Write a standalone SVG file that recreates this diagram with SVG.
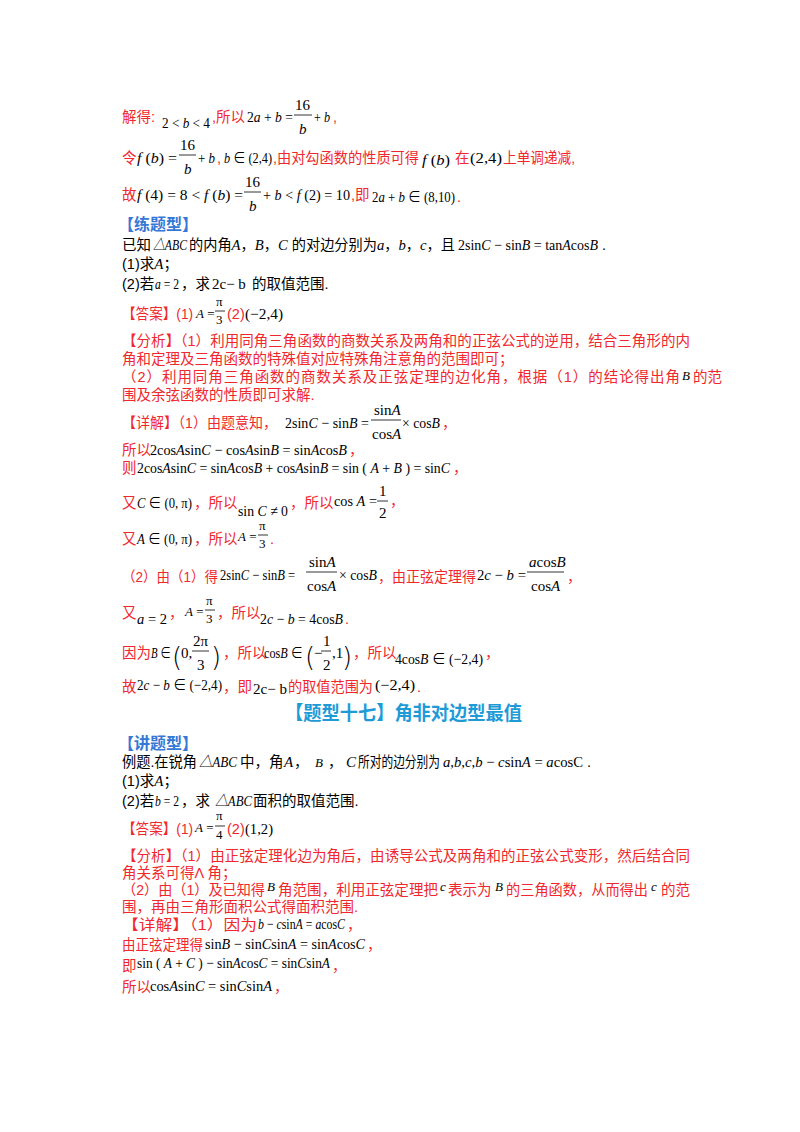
<svg xmlns="http://www.w3.org/2000/svg" width="800" height="1132" viewBox="0 0 800 1132">
<style>
text{font-family:"Liberation Sans","Noto Sans CJK SC",sans-serif;font-size:14.5px;fill:#000}
.r{fill:#f0282d}
.m{font-family:"Liberation Serif","Noto Sans CJK SC",serif;font-size:15px}
.i{font-style:italic}
.b{fill:#3578d6;font-weight:bold;font-size:16px}
.h{fill:#1e9bd7;font-weight:bold;font-size:19px}
.s{font-size:13px}
.p{font-family:"DejaVu Sans",sans-serif;font-size:26px;font-weight:200}
line{stroke:#000;stroke-width:0.8}
</style>
<rect width="800" height="1132" fill="#fff"/>
<text x="122" y="122" class="r">解得:</text>
<text x="162" y="128" class="m" textLength="48" lengthAdjust="spacingAndGlyphs">2 &lt; <tspan class="i">b</tspan> &lt; 4</text>
<text x="212" y="122" class="r">,所以</text>
<text x="247" y="122" class="m" textLength="46" lengthAdjust="spacingAndGlyphs">2<tspan class="i">a</tspan> + <tspan class="i">b</tspan> =</text>
<text x="295" y="110" class="m">16</text><line x1="294" y1="115" x2="312" y2="115"/><text x="299" y="134" class="m i">b</text>
<text x="314" y="122" class="m" textLength="16" lengthAdjust="spacingAndGlyphs">+ <tspan class="i">b</tspan></text><text x="333" y="122" class="r">,</text>

<text x="122" y="163" class="r">令</text>
<text x="137" y="163" class="m" textLength="40" lengthAdjust="spacingAndGlyphs"><tspan class="i">f</tspan> (<tspan class="i">b</tspan>) =</text>
<text x="180" y="150" class="m">16</text><line x1="179" y1="155" x2="196" y2="155"/><text x="184" y="174" class="m i">b</text>
<text x="198" y="163" class="m" textLength="17" lengthAdjust="spacingAndGlyphs">+ <tspan class="i">b</tspan></text>
<text x="217" y="163" class="r">,</text>
<text x="224" y="163" class="m" textLength="48" lengthAdjust="spacingAndGlyphs"><tspan class="i">b</tspan> ∈ (2,4)</text>
<text x="273" y="163" class="r" textLength="146" lengthAdjust="spacingAndGlyphs">,由对勾函数的性质可得</text>
<text x="422" y="165" class="m" textLength="28" lengthAdjust="spacingAndGlyphs"><tspan class="i">f</tspan> (<tspan class="i">b</tspan>)</text>
<text x="455" y="163" class="r">在</text>
<text x="470" y="163" class="m" textLength="32" lengthAdjust="spacingAndGlyphs">(2,4)</text>
<text x="503" y="163" class="r" textLength="72" lengthAdjust="spacingAndGlyphs">上单调递减,</text>

<text x="122" y="200" class="r">故</text>
<text x="137" y="200" class="m" textLength="106" lengthAdjust="spacingAndGlyphs"><tspan class="i">f</tspan> (4) = 8 &lt; <tspan class="i">f</tspan> (<tspan class="i">b</tspan>) =</text>
<text x="245" y="187" class="m">16</text><line x1="244" y1="192" x2="261" y2="192"/><text x="249" y="211" class="m i">b</text>
<text x="263" y="200" class="m" textLength="87" lengthAdjust="spacingAndGlyphs">+ <tspan class="i">b</tspan> &lt; <tspan class="i">f</tspan> (2) = 10</text>
<text x="351" y="200" class="r">,即</text>
<text x="372" y="202" class="m" textLength="83" lengthAdjust="spacingAndGlyphs">2<tspan class="i">a</tspan> + <tspan class="i">b</tspan> ∈ (8,10)</text>
<text x="457" y="202" class="r">.</text>

<text x="118" y="230" class="b">【练题型】</text>
<text x="122" y="250">已知</text>
<text x="153" y="250" class="m i" textLength="34" lengthAdjust="spacingAndGlyphs">△ABC</text>
<text x="189" y="250" textLength="266" lengthAdjust="spacingAndGlyphs">的内角<tspan class="m i">A</tspan>，<tspan class="m i">B</tspan>，<tspan class="m i">C</tspan> 的对边分别为<tspan class="m i">a</tspan>，<tspan class="m i">b</tspan>，<tspan class="m i">c</tspan>，且</text>
<text x="458" y="250" class="m" textLength="140" lengthAdjust="spacingAndGlyphs">2sin<tspan class="i">C</tspan> − sin<tspan class="i">B</tspan> = tan<tspan class="i">A</tspan>cos<tspan class="i">B</tspan></text>
<text x="602" y="250">.</text>
<text x="122" y="269">(1)求<tspan class="m i">A</tspan>；</text>
<text x="122" y="289">(2)若</text>
<text x="155" y="289" class="m" textLength="24" lengthAdjust="spacingAndGlyphs"><tspan class="i">a</tspan> = 2</text>
<text x="181" y="289">，求</text>
<text x="212" y="289" class="m">2c− b</text>
<text x="252" y="289">的取值范围.</text>

<text x="122" y="319" class="r" textLength="71" lengthAdjust="spacingAndGlyphs">【答案】(1)</text>
<text x="196" y="318" class="m s"><tspan class="i">A</tspan> =</text>
<text x="216" y="306" class="m s">π</text><line x1="215" y1="311" x2="225" y2="311"/><text x="216" y="324" class="m s">3</text>
<text x="227" y="319" class="r">(2)</text>
<text x="245" y="319" class="m" textLength="38" lengthAdjust="spacingAndGlyphs">(−2,4)</text>

<text x="122" y="346" class="r" textLength="568">【分析】（1）利用同角三角函数的商数关系及两角和的正弦公式的逆用，结合三角形的内</text>
<text x="122" y="364" class="r">角和定理及三角函数的特殊值对应特殊角注意角的范围即可；</text>
<text x="122" y="382" class="r" textLength="558">（2）利用同角三角函数的商数关系及正弦定理的边化角，根据（1）的结论得出角</text>
<text x="682" y="380" class="m i s">B</text>
<text x="693" y="382" class="r">的范</text>
<text x="122" y="400" class="r">围及余弦函数的性质即可求解.</text>

<text x="122" y="428" class="r" textLength="155" lengthAdjust="spacingAndGlyphs">【详解】（1）由题意知，</text>
<text x="285" y="428" class="m" textLength="84" lengthAdjust="spacingAndGlyphs">2sin<tspan class="i">C</tspan> − sin<tspan class="i">B</tspan> =</text>
<text x="374" y="415" class="m">sin<tspan class="i">A</tspan></text><line x1="371" y1="420" x2="401" y2="420"/><text x="372" y="439" class="m">cos<tspan class="i">A</tspan></text>
<text x="402" y="428" class="m" textLength="38" lengthAdjust="spacingAndGlyphs">× cos<tspan class="i">B</tspan></text>
<text x="442" y="428" class="r">，</text>
<text x="122" y="455" class="r">所以</text>
<text x="150" y="455" class="m" textLength="197" lengthAdjust="spacingAndGlyphs">2cos<tspan class="i">A</tspan>sin<tspan class="i">C</tspan> − cos<tspan class="i">A</tspan>sin<tspan class="i">B</tspan> = sin<tspan class="i">A</tspan>cos<tspan class="i">B</tspan></text>
<text x="349" y="455" class="r">，</text>
<text x="122" y="473" class="r">则</text>
<text x="137" y="473" class="m" textLength="313" lengthAdjust="spacingAndGlyphs">2cos<tspan class="i">A</tspan>sin<tspan class="i">C</tspan> = sin<tspan class="i">A</tspan>cos<tspan class="i">B</tspan> + cos<tspan class="i">A</tspan>sin<tspan class="i">B</tspan> = sin ( <tspan class="i">A</tspan> + <tspan class="i">B</tspan> ) = sin<tspan class="i">C</tspan></text>
<text x="453" y="473" class="r">，</text>

<text x="122" y="508" class="r">又</text>
<text x="137" y="508" class="m" textLength="55" lengthAdjust="spacingAndGlyphs"><tspan class="i">C</tspan> ∈ (0, π)</text>
<text x="194" y="508" class="r">，所以</text>
<text x="238" y="516" class="m" textLength="50" lengthAdjust="spacingAndGlyphs">sin <tspan class="i">C</tspan> ≠ 0</text>
<text x="290" y="508" class="r">，所以</text>
<text x="334" y="506" class="m" textLength="43" lengthAdjust="spacingAndGlyphs">cos <tspan class="i">A</tspan> =</text>
<text x="379" y="496" class="m">1</text><line x1="377" y1="501" x2="388" y2="501"/><text x="379" y="518" class="m">2</text>
<text x="390" y="506" class="r">，</text>

<text x="122" y="544" class="r">又</text>
<text x="137" y="544" class="m" textLength="55" lengthAdjust="spacingAndGlyphs"><tspan class="i">A</tspan> ∈ (0, π)</text>
<text x="194" y="544" class="r">，所以</text>
<text x="238" y="541" class="m s"><tspan class="i">A</tspan> =</text>
<text x="259" y="530" class="m s">π</text><line x1="258" y1="535" x2="268" y2="535"/><text x="259" y="548" class="m s">3</text>
<text x="270" y="544" class="r">.</text>

<text x="122" y="582" class="r" textLength="96" lengthAdjust="spacingAndGlyphs">（2）由（1）得</text>
<text x="220" y="580" class="m" textLength="75" lengthAdjust="spacingAndGlyphs">2sin<tspan class="i">C</tspan> − sin<tspan class="i">B</tspan> =</text>
<text x="309" y="567" class="m">sin<tspan class="i">A</tspan></text><line x1="306" y1="572" x2="337" y2="572"/><text x="307" y="591" class="m">cos<tspan class="i">A</tspan></text>
<text x="339" y="580" class="m" textLength="38" lengthAdjust="spacingAndGlyphs">× cos<tspan class="i">B</tspan></text>
<text x="378" y="582" class="r" textLength="98" lengthAdjust="spacingAndGlyphs">，由正弦定理得</text>
<text x="477" y="580" class="m" textLength="49" lengthAdjust="spacingAndGlyphs">2<tspan class="i">c</tspan> − <tspan class="i">b</tspan> =</text>
<text x="529" y="567" class="m"><tspan class="i">a</tspan>cos<tspan class="i">B</tspan></text><line x1="527" y1="572" x2="564" y2="572"/><text x="531" y="591" class="m">cos<tspan class="i">A</tspan></text>
<text x="567" y="582" class="r">，</text>

<text x="122" y="618" class="r">又</text>
<text x="137" y="624" class="m" textLength="30" lengthAdjust="spacingAndGlyphs"><tspan class="i">a</tspan> = 2</text>
<text x="169" y="618" class="r">，</text>
<text x="185" y="616" class="m s"><tspan class="i">A</tspan> =</text>
<text x="206" y="605" class="m s">π</text><line x1="205" y1="610" x2="215" y2="610"/><text x="206" y="623" class="m s">3</text>
<text x="217" y="618" class="r">，所以</text>
<text x="260" y="624" class="m" textLength="83" lengthAdjust="spacingAndGlyphs">2<tspan class="i">c</tspan> − <tspan class="i">b</tspan> = 4cos<tspan class="i">B</tspan></text>
<text x="345" y="624" class="r">.</text>

<text x="122" y="658" class="r">因为</text>
<text x="151" y="658" class="m" textLength="20" lengthAdjust="spacingAndGlyphs"><tspan class="i">B</tspan> ∈</text>
<text x="172" y="666" class="p">(</text>
<text x="181" y="658" class="m">0,</text>
<text x="193" y="646" class="m">2π</text><line x1="192" y1="651" x2="209" y2="651"/><text x="197" y="670" class="m">3</text>
<text x="211" y="666" class="p">)</text>
<text x="223" y="658" class="r">，所以</text>
<text x="264" y="658" class="m" textLength="39" lengthAdjust="spacingAndGlyphs">cos<tspan class="i">B</tspan> ∈</text>
<text x="305" y="666" class="p">(</text>
<text x="314" y="658" class="m">−</text>
<text x="323" y="646" class="m">1</text><line x1="321" y1="651" x2="331" y2="651"/><text x="323" y="670" class="m">2</text>
<text x="332" y="658" class="m">,1</text>
<text x="342" y="666" class="p">)</text>
<text x="353" y="658" class="r">，所以</text>
<text x="395" y="664" class="m" textLength="88" lengthAdjust="spacingAndGlyphs">4cos<tspan class="i">B</tspan> ∈ (−2,4)</text>
<text x="485" y="658" class="r">，</text>

<text x="122" y="692" class="r">故</text>
<text x="137" y="690" class="m" textLength="85" lengthAdjust="spacingAndGlyphs">2<tspan class="i">c</tspan> − <tspan class="i">b</tspan> ∈ (−2,4)</text>
<text x="223" y="692" class="r">，即</text>
<text x="253" y="694" class="m" textLength="34" lengthAdjust="spacingAndGlyphs">2c− b</text>
<text x="288" y="692" class="r" textLength="85" lengthAdjust="spacingAndGlyphs">的取值范围为</text>
<text x="375" y="690" class="m" textLength="40" lengthAdjust="spacingAndGlyphs">(−2,4)</text>
<text x="417" y="692" class="r">.</text>

<text x="285" y="720" class="h" textLength="237" lengthAdjust="spacingAndGlyphs">【题型十七】角非对边型最值</text>
<text x="118" y="749" class="b">【讲题型】</text>
<text x="122" y="767" textLength="75" lengthAdjust="spacingAndGlyphs">例题.在锐角</text>
<text x="199" y="767" class="m i" textLength="38" lengthAdjust="spacingAndGlyphs">△ABC</text>
<text x="240" y="767">中，角</text>
<text x="284" y="767" class="m i">A</text>
<text x="294" y="767">，</text>
<text x="315" y="767" class="m i s">B</text>
<text x="328" y="767">，</text>
<text x="346" y="767" class="m i">C</text>
<text x="358" y="767" textLength="82" lengthAdjust="spacingAndGlyphs">所对的边分别为</text>
<text x="443" y="767" class="m" textLength="140" lengthAdjust="spacingAndGlyphs"><tspan class="i">a</tspan>,<tspan class="i">b</tspan>,<tspan class="i">c</tspan>,<tspan class="i">b</tspan> − <tspan class="i">c</tspan>sin<tspan class="i">A</tspan> = <tspan class="i">a</tspan>cosC</text>
<text x="587" y="767">.</text>
<text x="122" y="786">(1)求<tspan class="m i">A</tspan>；</text>
<text x="122" y="806">(2)若</text>
<text x="155" y="806" class="m" textLength="24" lengthAdjust="spacingAndGlyphs"><tspan class="i">b</tspan> = 2</text>
<text x="181" y="806">，求</text>
<text x="215" y="806" class="m i" textLength="37" lengthAdjust="spacingAndGlyphs">△ABC</text>
<text x="253" y="806">面积的取值范围.</text>

<text x="122" y="834" class="r" textLength="71" lengthAdjust="spacingAndGlyphs">【答案】(1)</text>
<text x="195" y="832" class="m s"><tspan class="i">A</tspan> =</text>
<text x="216" y="820" class="m s">π</text><line x1="215" y1="826" x2="225" y2="826"/><text x="216" y="839" class="m s">4</text>
<text x="227" y="834" class="r">(2)</text>
<text x="245" y="834" class="m" textLength="28" lengthAdjust="spacingAndGlyphs">(1,2)</text>

<text x="122" y="861" class="r" textLength="568">【分析】（1）由正弦定理化边为角后，由诱导公式及两角和的正弦公式变形，然后结合同</text>
<text x="122" y="878" class="r">角关系可得Λ 角；</text>
<text x="122" y="895" class="r" textLength="143" lengthAdjust="spacingAndGlyphs">（2）由（1）及已知得</text>
<text x="267" y="891" class="m i s">B</text>
<text x="278" y="895" class="r" textLength="160" lengthAdjust="spacingAndGlyphs">角范围，利用正弦定理把</text>
<text x="440" y="891" class="m i s">c</text>
<text x="448" y="895" class="r">表示为</text>
<text x="495" y="891" class="m i s">B</text>
<text x="506" y="895" class="r" textLength="142" lengthAdjust="spacingAndGlyphs">的三角函数，从而得出</text>
<text x="651" y="891" class="m i s">c</text>
<text x="661" y="895" class="r">的范</text>
<text x="122" y="912" class="r">围，再由三角形面积公式得面积范围.</text>
<text x="122" y="930" class="r" textLength="135" lengthAdjust="spacingAndGlyphs">【详解】（1）因为</text>
<text x="258" y="929" class="m" textLength="87" lengthAdjust="spacingAndGlyphs"><tspan class="i">b</tspan> − <tspan class="i">c</tspan>sin<tspan class="i">A</tspan> = <tspan class="i">a</tspan>cos<tspan class="i">C</tspan></text>
<text x="347" y="930" class="r">，</text>
<text x="122" y="950" class="r" textLength="81" lengthAdjust="spacingAndGlyphs">由正弦定理得</text>
<text x="205" y="949" class="m" textLength="160" lengthAdjust="spacingAndGlyphs">sin<tspan class="i">B</tspan> − sin<tspan class="i">C</tspan>sin<tspan class="i">A</tspan> = sin<tspan class="i">A</tspan>cos<tspan class="i">C</tspan></text>
<text x="367" y="950" class="r">，</text>
<text x="122" y="971" class="r">即</text>
<text x="137" y="968" class="m" textLength="193" lengthAdjust="spacingAndGlyphs">sin ( <tspan class="i">A</tspan> + <tspan class="i">C</tspan> ) − sin<tspan class="i">A</tspan>cos<tspan class="i">C</tspan> = sin<tspan class="i">C</tspan>sin<tspan class="i">A</tspan></text>
<text x="332" y="971" class="r">，</text>
<text x="122" y="992" class="r">所以</text>
<text x="150" y="991" class="m" textLength="122" lengthAdjust="spacingAndGlyphs">cos<tspan class="i">A</tspan>sin<tspan class="i">C</tspan> = sin<tspan class="i">C</tspan>sin<tspan class="i">A</tspan></text>
<text x="274" y="992" class="r">，</text>
</svg>
